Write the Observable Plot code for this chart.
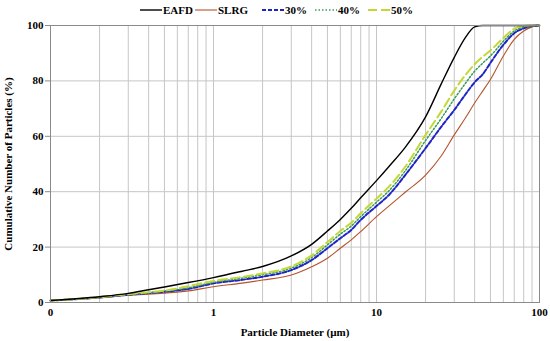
<!DOCTYPE html>
<html><head><meta charset="utf-8">
<script src="https://cdn.jsdelivr.net/npm/d3@7"></script>
<script src="https://cdn.jsdelivr.net/npm/@observablehq/plot@0.6"></script>
<style>
body{margin:0;background:#fff;}
#wrap{position:relative;width:550px;height:341px;font-family:"Liberation Serif","Times New Roman",serif;}
#legend{position:absolute;top:2px;left:0;width:550px;height:16px;font-weight:bold;font-size:11px;color:#000;}
.item{position:absolute;top:0;height:16px;display:flex;align-items:center;white-space:nowrap;}
.item svg{margin-right:1px;}
#chart{position:absolute;top:0;left:0;}
</style></head><body>
<div id="wrap"><div id="chart"></div><div id="legend"></div></div>
<script>
// Particle diameters (µm) at which the curves were read
const diameters = [0.1,0.2,0.3,0.4,0.5,0.7,1,1.5,2,3,4,5,6,7,8,10,12,15,20,25,30,35,40,45,50,60,70,80,90,100];
// Cumulative number of particles (%)
const eafd = [0.7,2.1,3.3,4.6,5.6,7.2,9.0,11.3,13.0,16.8,21.0,25.8,30.0,34.0,37.8,44.0,49.3,56.0,67.0,79.0,88.5,95.5,99.5,100,100,100,100,100,100,100];
const slrg = [0.7,1.7,2.6,3.0,3.4,4.2,5.7,7.0,8.1,9.9,12.9,16.0,19.6,22.6,25.6,31.0,35.0,39.8,46.0,53.0,60.5,66.5,72.0,76.5,80.5,89.0,95.0,98.0,99.5,100];
const p30 = [0.7,1.8,2.8,3.4,3.9,4.9,6.9,8.2,9.3,11.7,15.3,19.6,23.2,26.2,29.8,34.8,39.0,46.0,55.7,63.5,69.5,75.0,79.5,82.5,86.5,93.0,97.2,99.0,99.8,100];
const p40 = [0.7,1.9,2.9,3.5,4.1,5.3,7.3,8.8,10.0,12.4,16.2,20.8,24.7,27.6,31.0,36.2,40.5,47.5,58.5,66.5,73.5,79.0,83.5,86.5,89.0,94.3,98.0,99.5,100,100];
const p50 = [0.7,1.9,3.0,3.7,4.3,5.9,7.8,9.2,10.5,13.0,17.0,21.8,25.8,28.8,32.2,37.5,42.0,49.0,60.5,69.0,76.5,82.0,86.0,88.8,91.0,95.5,98.8,99.8,100,100];

const seriesNames = ["EAFD","SLRG","30%","40%","50%"];
const seriesValues = [eafd, slrg, p30, p40, p50];
const colors = ["#000000","#b5532b","#1f23c4","#3a9a5c","#c3d837"];
const dashes = ["none","none","4,2","1.5,2","9,4"];
const widths = [1.4,1.1,2,1.5,2];
const xTicks = [0.1,1,10,100];
const yTicks = [0,20,40,60,80,100];
const legendX = [140,195,262,315,368];

const gridX = [];
for (const dec of [0.1,1,10]) for (let k=1;k<=9;k++) gridX.push(+(dec*k).toPrecision(3));

const rows = seriesNames.map((s,i)=>diameters.map((d,j)=>({d, v: seriesValues[i][j], s})));
const drawOrder = [1,2,3,4,0];

const chart = Plot.plot({
  width:550, height:341,
  marginTop:25, marginRight:11, marginBottom:39, marginLeft:50,
  style:{fontFamily:'"Liberation Serif","Times New Roman",serif', fontSize:"11px", fontWeight:"bold", background:"transparent", color:"#000"},
  x:{type:"log", domain:[0.1,100]},
  y:{domain:[0,100]},
  marks:[
    Plot.ruleX(gridX.slice(1), {stroke:"#c6c6c6", strokeWidth:1}),
    Plot.ruleY([20,40,60,80], {stroke:"#c6c6c6", strokeWidth:1}),
    ...drawOrder.map(i => Plot.line(rows[i], {x:"d", y:"v", stroke:colors[i], strokeWidth:widths[i], strokeDasharray:dashes[i], curve:"monotone-x"})),
    Plot.frame({stroke:"#8a8a8a", strokeWidth:1}),
    Plot.axisY({ticks:yTicks, tickSize:5, tickPadding:2, stroke:"#8a8a8a", label:"Cumulative Number of Particles (%)", labelAnchor:"center", labelArrow:"none", labelOffset:46}),
    Plot.axisX({ticks:xTicks, tickFormat:d => d < 1 ? "0" : String(d), tickSize:0, tickPadding:6, label:"Particle Diameter (µm)", labelAnchor:"center", labelArrow:"none", labelOffset:33})
  ]
});
document.getElementById("chart").appendChild(chart);

const leg = document.getElementById("legend");
seriesNames.forEach((s,i)=>{
  const it = document.createElement("div");
  it.className = "item";
  it.style.left = legendX[i] + "px";
  const da = dashes[i] === "none" ? "" : `stroke-dasharray="${dashes[i]}"`;
  it.innerHTML = `<svg width="22" height="16"><line x1="0" y1="8" x2="22" y2="8" stroke="${colors[i]}" stroke-width="${widths[i]}" ${da}/></svg><span>${s}</span>`;
  leg.appendChild(it);
});
</script>
</body></html>
